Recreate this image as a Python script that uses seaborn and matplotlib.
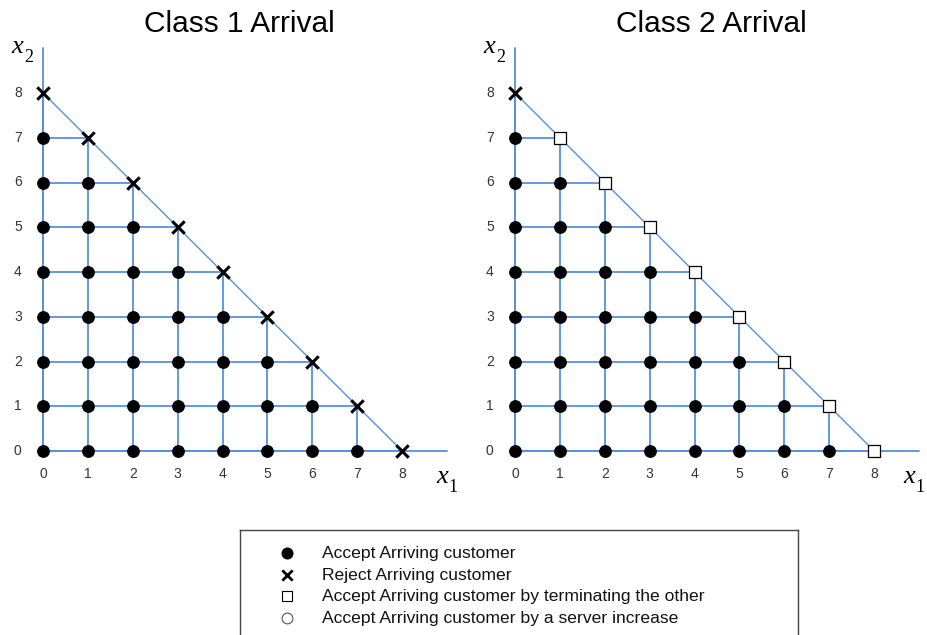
import matplotlib
matplotlib.use('Agg')
import matplotlib.pyplot as plt
import seaborn as sns
import pandas as pd

sns.set_style("white")
plt.rcParams['font.family'] = ['Liberation Sans', 'DejaVu Sans']
plt.rcParams['text.color'] = 'black'

LINE_BLUE = '#5592de'

# state space data (x1 = class 1 customers, x2 = class 2 customers)
axis_ticks = [0, 1, 2, 3, 4, 5, 6, 7, 8]
axis_end = 9
# accepted states: largest x1 on each row x2 = 0..7
accept_row_x2 = [0, 1, 2, 3, 4, 5, 6, 7]
accept_row_max_x1 = [7, 6, 5, 4, 3, 2, 1, 0]
# boundary states (x1 + x2 = 8)
boundary_x1 = [0, 1, 2, 3, 4, 5, 6, 7, 8]
boundary_x2 = [8, 7, 6, 5, 4, 3, 2, 1, 0]
# class 2 arrival: (0, 8) rejected, other boundary states accept by terminating
class2_reject_x1 = [0]
class2_reject_x2 = [8]
class2_term_x1 = [1, 2, 3, 4, 5, 6, 7, 8]
class2_term_x2 = [7, 6, 5, 4, 3, 2, 1, 0]

titles = ['Class 1 Arrival', 'Class 2 Arrival']
legend_labels = ['Accept Arriving customer',
                 'Reject Arriving customer',
                 'Accept Arriving customer by terminating the other',
                 'Accept Arriving customer by a server increase']

W, H = 928, 635
UX, UY = 44.9, 44.75  # pixels per unit


def panel_axes(fig, left_px, width_px, origin_x_px, origin_y_px=451, top_px=0, bottom_px=510):
    ax = fig.add_axes([left_px / W, 1 - bottom_px / H, width_px / W, (bottom_px - top_px) / H])
    ax.set_xlim((left_px - origin_x_px) / UX, (left_px + width_px - origin_x_px) / UX)
    ax.set_ylim(-(bottom_px - origin_y_px) / UY, (origin_y_px - top_px) / UY)
    ax.set_axis_off()
    return ax


def axis_label(ax, x, y, sub):
    # italic serif x with an upright subscript
    ax.text(x, y, 'x', fontsize=19, ha='left', va='baseline',
            family='Liberation Serif', style='italic')
    ax.text(x + 0.28, y - 0.2, sub, fontsize=13, ha='left', va='baseline',
            family='Liberation Serif')


def draw_grid(ax, title, x1_label_x):
    # lattice lines up to the boundary
    for bx, by in zip(boundary_x1, boundary_x2):
        ax.plot([0, bx], [by, by], color=LINE_BLUE, lw=1.3, zorder=1)
        ax.plot([bx, bx], [0, by], color=LINE_BLUE, lw=1.3, zorder=1)
    ax.plot(boundary_x1, boundary_x2, color=LINE_BLUE, lw=1.0, zorder=1)
    ax.plot([0, axis_end], [0, 0], color=LINE_BLUE, lw=1.3, zorder=1)
    ax.plot([0, 0], [0, axis_end], color=LINE_BLUE, lw=1.3, zorder=1)

    for t in axis_ticks:
        ax.text(t, -0.51, str(t), ha='center', va='center', fontsize=10, color='#333333')
        ax.text(-0.56, t, str(t), ha='center', va='center', fontsize=10, color='#333333')

    axis_label(ax, -0.7, 8.89, '2')
    axis_label(ax, x1_label_x, -0.72, '1')
    ax.text(4.37, 9.54, title, fontsize=21.5, ha='center', va='center')

    # accepted interior states
    xs, ys = [], []
    for row, mx in zip(accept_row_x2, accept_row_max_x1):
        for i in range(mx + 1):
            xs.append(i)
            ys.append(row)
    acc = pd.DataFrame({'x1': xs, 'x2': ys})
    sns.scatterplot(data=acc, x='x1', y='x2', ax=ax, color='black', s=85,
                    marker='o', linewidth=0, zorder=3, legend=False)


fig = plt.figure(figsize=(W / 100, H / 100), dpi=100)

# Class 1 arrival
ax1 = panel_axes(fig, 0, 464, 43)
draw_grid(ax1, titles[0], 8.76)
rej = pd.DataFrame({'x1': boundary_x1, 'x2': boundary_x2})
sns.scatterplot(data=rej, x='x1', y='x2', ax=ax1, color='black', s=80,
                marker='x', linewidth=2.2, zorder=4, legend=False)

# Class 2 arrival
ax2 = panel_axes(fig, 472, 456, 515)
draw_grid(ax2, titles[1], 8.64)
rej2 = pd.DataFrame({'x1': class2_reject_x1, 'x2': class2_reject_x2})
sns.scatterplot(data=rej2, x='x1', y='x2', ax=ax2, color='black', s=80,
                marker='x', linewidth=2.2, zorder=4, legend=False)
term = pd.DataFrame({'x1': class2_term_x1, 'x2': class2_term_x2})
sns.scatterplot(data=term, x='x1', y='x2', ax=ax2, s=82, marker='s',
                facecolor='white', edgecolor='black', linewidth=0.9, zorder=4, legend=False)

# legend box
lax = fig.add_axes([240 / W, 1 - 640 / H, 558 / W, 110 / H])
lax.set_xticks([])
lax.set_yticks([])
for sp in lax.spines.values():
    sp.set_visible(True)
    sp.set_color('#444444')
    sp.set_linewidth(1.0)
row_y = [0.79, 0.59, 0.40, 0.20]
mk_x = 0.084
lax.scatter([mk_x], [row_y[0]], s=75, marker='o', color='black', linewidth=0)
lax.scatter([mk_x], [row_y[1]], s=55, marker='x', color='black', linewidth=2)
lax.scatter([mk_x], [row_y[2]], s=60, marker='s', facecolor='white', edgecolor='black', linewidth=0.8)
lax.scatter([mk_x], [row_y[3]], s=60, marker='o', facecolor='white', edgecolor='#555555', linewidth=0.8)
lax.set_xlim(0, 1)
lax.set_ylim(0, 1)
for y, lab in zip(row_y, legend_labels):
    lax.text(0.147, y, lab, fontsize=12.6, ha='left', va='center', color='#111111')

fig.savefig('out.png', dpi=100)
